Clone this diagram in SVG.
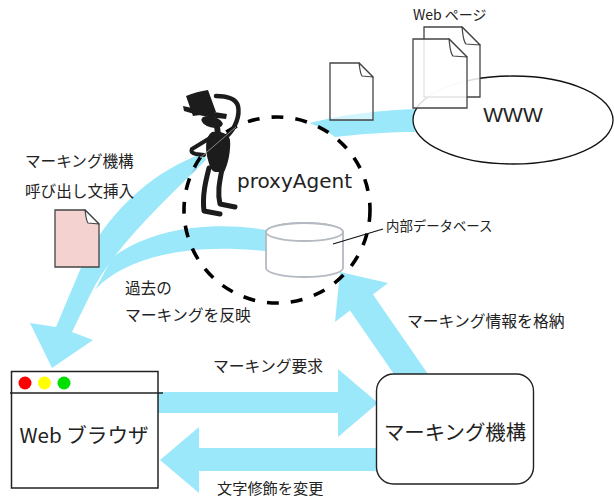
<svg xmlns="http://www.w3.org/2000/svg" width="614" height="497" viewBox="0 0 614 497">
  <style>
    .flow { fill: #9be8fb; }
    .flow-dark { fill: #8ecbef; }
    .jp { font-family: "Noto Sans CJK JP", "Noto Sans", sans-serif; fill: #222; }
    .page { stroke: #444; stroke-width: 1.3; stroke-linejoin: miter; }
    .fold { fill: #fff; stroke: #444; stroke-width: 1.2; stroke-linejoin: round; }
    .ink { fill: #1c1c1c; }
    .limb { fill: none; stroke: #1c1c1c; stroke-linecap: round; stroke-linejoin: round; }
  </style>
  <defs>
    <clipPath id="agentEdge">
      <path d="M197,162.6 A93,93 0 0 0 184.3,203 L197,203 Z"/>
    </clipPath>
  </defs>

  <!-- connectors -->
  <g id="connectors">
    <!-- web pages flowing from WWW into the agent -->
    <path id="flow-www" class="flow" d="M418,109 C380,110 340,115 309.5,123 A93,93 0 0 1 335,137 C360,134 390,132 418,132 Z"/>
    <!-- agent to browser: inserted call script -->
    <path id="flow-insert" class="flow" d="M204,153 C150,172 105,215 80,270 L56,327 L30,323 L52,368 L93,340 L72,332 L90,295 C112,250 160,205 206,160 Z"/>
    <path class="flow-dark" clip-path="url(#agentEdge)" d="M204,153 C150,172 105,215 80,270 L56,327 L30,323 L52,368 L93,340 L72,332 L90,295 C112,250 160,205 206,160 Z"/>
    <!-- database to browser: past markings -->
    <path id="flow-past" class="flow" d="M272,231 C215,220 150,228 112,258 L95,290 C120,262 180,240 272,252 Z"/>
    <!-- browser to marking engine: request -->
    <polygon id="flow-request" class="flow" points="158,392 338,392 338,369 378,403 338,437 338,413 158,413"/>
    <!-- marking engine to browser: style change -->
    <polygon id="flow-style" class="flow" points="380,448 199,448 199,427 160,460 199,493 199,471 380,471"/>
    <!-- marking engine to database: store -->
    <polygon id="flow-store" class="flow" points="340,272 388,283 373,294.5 430,377 407,393 350,310.5 335,322"/>
  </g>

  <!-- WWW cloud -->
  <g id="www">
    <ellipse cx="513" cy="120" rx="100" ry="44" fill="#fff" stroke="#111" stroke-width="1.3"/>
    <text x="513" y="122" text-anchor="middle" font-family="Liberation Sans, Arial, sans-serif" font-size="21" fill="#222">WWW</text>
  </g>

  <!-- Web pages held on the WWW -->
  <g id="web-pages">
    <path class="page" fill="#fff" fill-opacity="0.85" d="M424,27 H462 L480,45 V97 H424 Z"/>
    <path class="fold" d="M462,27 C463,35 463,41 466,44 L480,45 Z"/>
    <path class="page" fill="#fff" fill-opacity="0.85" d="M413,39 H449 L467,57 V108 H413 Z"/>
    <path class="fold" d="M449,39 C450,47 450,53 453,56 L467,57 Z"/>
    <text class="jp" x="413" y="20" font-size="14">Web ページ</text>
  </g>

  <!-- page in transit -->
  <g id="page-transit">
    <path class="page" fill="#fff" fill-opacity="0.55" d="M330,63 H359 L373,77 V120 H330 Z"/>
    <path class="fold" d="M359,63 C360,69 360,73 362,76 L373,77 Z"/>
  </g>

  <!-- proxyAgent boundary -->
  <g id="proxy-agent">
    <circle cx="277" cy="210" r="93" fill="none" stroke="#000" stroke-width="3.6" stroke-dasharray="12 12"/>
    <text x="237" y="188" font-family="DejaVu Sans, sans-serif" font-size="20" fill="#222">proxyAgent</text>
  </g>

  <!-- agent figure -->
  <g id="agent-figure">
    <path class="ink" d="M186,96 C193,93 201,91 208,90 L216,112 C208,114 200,115 193,116 Z"/>
    <path class="ink" d="M183,106 Q200,110 227,114 L226,119 Q202,117 184,111 Z"/>
    <ellipse class="ink" cx="212" cy="122" rx="11" ry="5.5" transform="rotate(15 212 122)"/>
    <path class="ink" d="M214,126 L220,127 L221,134 L215,134 Z"/>
    <path class="ink" d="M212,132 C205,136 205,150 208,160 C210,168 212,172 216,172 L224,172 C228,165 231,150 230,140 C229,134 222,131 212,132 Z"/>
    <path class="limb" stroke-width="4.5" d="M226,137 C236,128 240,115 238,106 C236,99 228,96 216,96"/>
    <path class="limb" stroke-width="4" d="M210,138 L192,149 Q190,153 196,154 L204,155"/>
    <line x1="200" y1="158" x2="236" y2="127" stroke="#888" stroke-width="1"/>
    <path class="limb" stroke-width="5" d="M209,168 C206,180 202,195 204,211 L220,214"/>
    <path class="limb" stroke-width="5" d="M222,169 C220,180 217,192 220,204 L235,207"/>
  </g>

  <!-- internal database -->
  <g id="database">
    <path d="M266,232 V268 A38.5,9 0 0 0 343,268 V232 A38.5,9 0 0 0 266,232 Z" fill="#fff" stroke="#b5b9c2" stroke-width="1.8"/>
    <ellipse cx="304.5" cy="232" rx="38.5" ry="9" fill="#fff" stroke="#b5b9c2" stroke-width="1.8"/>
    <line x1="333" y1="244" x2="383" y2="229" stroke="#111" stroke-width="1.2"/>
    <text class="jp" x="386" y="231" font-size="13.4">内部データベース</text>
  </g>

  <!-- inserted script page -->
  <g id="script-page">
    <path class="page" fill="#f4d2d0" d="M55,210 H85 L99,224 V267 H55 Z"/>
    <path class="fold" d="M85,210 C86,216 86,220 88,223 L99,224 Z"/>
    <text class="jp" x="25" y="167" font-size="15.6">マーキング機構</text>
    <text class="jp" x="25" y="197" font-size="15.6">呼び出し文挿入</text>
  </g>

  <!-- flow labels -->
  <g id="labels">
    <text class="jp" x="125" y="294" font-size="15.6">過去の</text>
    <text class="jp" x="125" y="321" font-size="15.8">マーキングを反映</text>
    <text class="jp" x="213" y="372" font-size="15.8">マーキング要求</text>
    <text class="jp" x="217" y="494" font-size="15.2">文字修飾を変更</text>
    <text class="jp" x="407" y="327" font-size="15.8">マーキング情報を格納</text>
  </g>

  <!-- Web browser -->
  <g id="web-browser">
    <rect x="11.5" y="371.5" width="146.5" height="116.5" fill="#fff" stroke="#222" stroke-width="1.5"/>
    <line x1="10" y1="393" x2="163" y2="393" stroke="#222" stroke-width="1.5"/>
    <circle cx="25" cy="383" r="6.5" fill="#ff0000"/>
    <circle cx="44.5" cy="383" r="6.5" fill="#ffff00"/>
    <circle cx="64" cy="383" r="6.5" fill="#00e000"/>
    <text class="jp" x="84" y="443" text-anchor="middle" font-size="20.6">Web ブラウザ</text>
  </g>

  <!-- marking engine -->
  <g id="marking-engine">
    <rect x="376.5" y="374" width="157" height="110" rx="17" fill="#fff" stroke="#222" stroke-width="1.4"/>
    <text class="jp" x="455" y="440" text-anchor="middle" font-size="20.4">マーキング機構</text>
  </g>
</svg>
